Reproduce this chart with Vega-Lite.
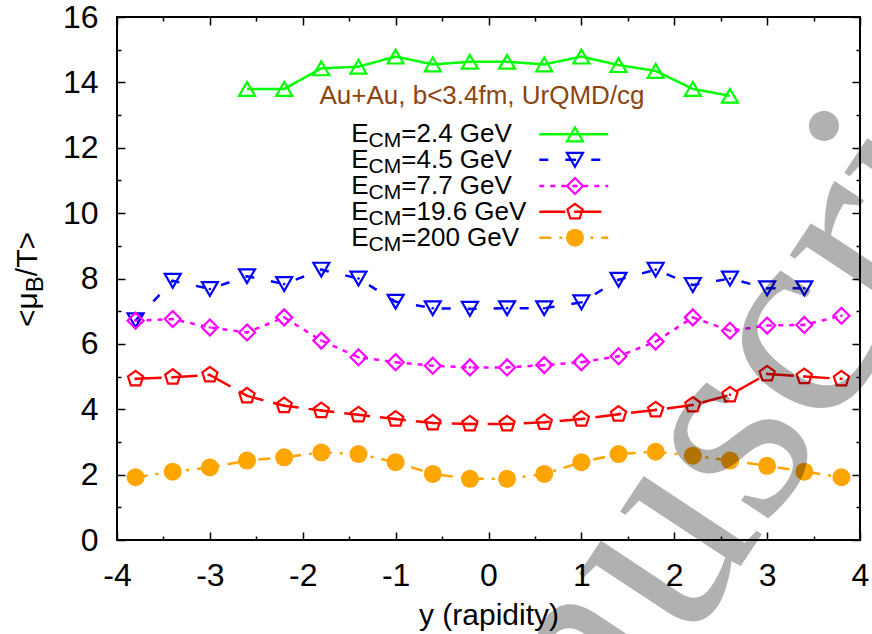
{
  "$schema": "https://vega.github.io/schema/vega-lite/v6.json",
  "width": 743,
  "height": 523,
  "autosize": {"type": "none"},
  "padding": {"left": 117, "top": 17, "right": 12, "bottom": 94},
  "background": "white",
  "config": {
    "view": {"stroke": "black", "strokeWidth": 2},
    "font": "Liberation Sans",
    "axis": {"grid": false, "domain": false, "tickColor": "black", "tickWidth": 1.5, "labelColor": "black", "labelFont": "Liberation Sans", "labelFontSize": 32, "titleFont": "Liberation Sans", "titleFontWeight": "normal", "titleColor": "black", "titleFontSize": 30, "labelFlush": false, "labelOverlap": false}
  },
  "datasets": {
    "main": [
      {"s": "2.4", "x": -2.6, "y": 13.8}, {"s": "2.4", "x": -2.2, "y": 13.8}, {"s": "2.4", "x": -1.8, "y": 14.43}, {"s": "2.4", "x": -1.4, "y": 14.48}, {"s": "2.4", "x": -1.0, "y": 14.79}, {"s": "2.4", "x": -0.6, "y": 14.55}, {"s": "2.4", "x": -0.2, "y": 14.63}, {"s": "2.4", "x": 0.2, "y": 14.63}, {"s": "2.4", "x": 0.6, "y": 14.55}, {"s": "2.4", "x": 1.0, "y": 14.79}, {"s": "2.4", "x": 1.4, "y": 14.53}, {"s": "2.4", "x": 1.8, "y": 14.35}, {"s": "2.4", "x": 2.2, "y": 13.8}, {"s": "2.4", "x": 2.6, "y": 13.59},
      {"s": "4.5", "x": -3.8, "y": 6.72}, {"s": "4.5", "x": -3.4, "y": 7.93}, {"s": "4.5", "x": -3.0, "y": 7.68}, {"s": "4.5", "x": -2.6, "y": 8.07}, {"s": "4.5", "x": -2.2, "y": 7.83}, {"s": "4.5", "x": -1.8, "y": 8.27}, {"s": "4.5", "x": -1.4, "y": 8.0}, {"s": "4.5", "x": -1.0, "y": 7.29}, {"s": "4.5", "x": -0.6, "y": 7.09}, {"s": "4.5", "x": -0.2, "y": 7.07}, {"s": "4.5", "x": 0.2, "y": 7.09}, {"s": "4.5", "x": 0.6, "y": 7.09}, {"s": "4.5", "x": 1.0, "y": 7.27}, {"s": "4.5", "x": 1.4, "y": 7.96}, {"s": "4.5", "x": 1.8, "y": 8.27}, {"s": "4.5", "x": 2.2, "y": 7.8}, {"s": "4.5", "x": 2.6, "y": 8.0}, {"s": "4.5", "x": 3.0, "y": 7.7}, {"s": "4.5", "x": 3.4, "y": 7.7},
      {"s": "7.7", "x": -3.8, "y": 6.71}, {"s": "7.7", "x": -3.4, "y": 6.76}, {"s": "7.7", "x": -3.0, "y": 6.5}, {"s": "7.7", "x": -2.6, "y": 6.35}, {"s": "7.7", "x": -2.2, "y": 6.81}, {"s": "7.7", "x": -1.8, "y": 6.1}, {"s": "7.7", "x": -1.4, "y": 5.59}, {"s": "7.7", "x": -1.0, "y": 5.44}, {"s": "7.7", "x": -0.6, "y": 5.33}, {"s": "7.7", "x": -0.2, "y": 5.28}, {"s": "7.7", "x": 0.2, "y": 5.28}, {"s": "7.7", "x": 0.6, "y": 5.35}, {"s": "7.7", "x": 1.0, "y": 5.44}, {"s": "7.7", "x": 1.4, "y": 5.62}, {"s": "7.7", "x": 1.8, "y": 6.07}, {"s": "7.7", "x": 2.2, "y": 6.81}, {"s": "7.7", "x": 2.6, "y": 6.4}, {"s": "7.7", "x": 3.0, "y": 6.56}, {"s": "7.7", "x": 3.4, "y": 6.58}, {"s": "7.7", "x": 3.8, "y": 6.86},
      {"s": "19.6", "x": -3.8, "y": 4.93}, {"s": "19.6", "x": -3.4, "y": 4.98}, {"s": "19.6", "x": -3.0, "y": 5.05}, {"s": "19.6", "x": -2.6, "y": 4.41}, {"s": "19.6", "x": -2.2, "y": 4.11}, {"s": "19.6", "x": -1.8, "y": 3.96}, {"s": "19.6", "x": -1.4, "y": 3.83}, {"s": "19.6", "x": -1.0, "y": 3.7}, {"s": "19.6", "x": -0.6, "y": 3.58}, {"s": "19.6", "x": -0.2, "y": 3.55}, {"s": "19.6", "x": 0.2, "y": 3.55}, {"s": "19.6", "x": 0.6, "y": 3.6}, {"s": "19.6", "x": 1.0, "y": 3.7}, {"s": "19.6", "x": 1.4, "y": 3.85}, {"s": "19.6", "x": 1.8, "y": 3.98}, {"s": "19.6", "x": 2.2, "y": 4.13}, {"s": "19.6", "x": 2.6, "y": 4.44}, {"s": "19.6", "x": 3.0, "y": 5.08}, {"s": "19.6", "x": 3.4, "y": 5.0}, {"s": "19.6", "x": 3.8, "y": 4.93},
      {"s": "200", "x": -3.8, "y": 1.92}, {"s": "200", "x": -3.4, "y": 2.09}, {"s": "200", "x": -3.0, "y": 2.22}, {"s": "200", "x": -2.6, "y": 2.43}, {"s": "200", "x": -2.2, "y": 2.53}, {"s": "200", "x": -1.8, "y": 2.68}, {"s": "200", "x": -1.4, "y": 2.63}, {"s": "200", "x": -1.0, "y": 2.38}, {"s": "200", "x": -0.6, "y": 2.02}, {"s": "200", "x": -0.2, "y": 1.87}, {"s": "200", "x": 0.2, "y": 1.87}, {"s": "200", "x": 0.6, "y": 2.02}, {"s": "200", "x": 1.0, "y": 2.38}, {"s": "200", "x": 1.4, "y": 2.63}, {"s": "200", "x": 1.8, "y": 2.7}, {"s": "200", "x": 2.2, "y": 2.58}, {"s": "200", "x": 2.6, "y": 2.43}, {"s": "200", "x": 3.0, "y": 2.27}, {"s": "200", "x": 3.4, "y": 2.09}, {"s": "200", "x": 3.8, "y": 1.92}
    ],
    "leg": [
      {"s": "2.4", "t": "=2.4 GeV", "ly": 12.41},
      {"s": "4.5", "t": "=4.5 GeV", "ly": 11.63},
      {"s": "7.7", "t": "=7.7 GeV", "ly": 10.83},
      {"s": "19.6", "t": "=19.6 GeV", "ly": 10.04},
      {"s": "200", "t": "=200 GeV", "ly": 9.25}
    ],
    "notes": [{"title": "Au+Au, b<3.4fm, UrQMD/cg", "a": "<μ", "b": "B", "c": "/T>", "w": "manuscript"}]
  },
  "resolve": {"axis": {"x": "independent", "y": "independent"}},
  "layer": [
    {
      "data": {"name": "main"},
      "mark": {"type": "line", "strokeWidth": 2.5},
      "encoding": {
        "x": {"field": "x", "type": "quantitative", "scale": {"domain": [-4, 4], "nice": false, "zero": false},
              "axis": {"orient": "bottom", "values": [-4, -3, -2, -1, 0, 1, 2, 3, 4], "labelExpr": "'' + datum.value", "tickSize": -8, "labelPadding": 28.6, "title": "y (rapidity)", "titlePadding": 9}},
        "y": {"field": "y", "type": "quantitative", "scale": {"domain": [0, 16], "nice": false, "zero": false},
              "axis": {"orient": "left", "values": [0, 2, 4, 6, 8, 10, 12, 14, 16], "labelExpr": "'' + datum.value", "tickSize": -8, "labelPadding": 27, "title": null}},
        "color": {"field": "s", "type": "nominal", "scale": {"domain": ["2.4", "4.5", "7.7", "19.6", "200"], "range": ["#00ff00", "#0000ff", "#ff00ff", "#ff0000", "#ffa500"]}, "legend": null},
        "strokeDash": {"field": "s", "type": "nominal", "scale": {"domain": ["2.4", "4.5", "7.7", "19.6", "200"], "range": [[1, 0], [9, 17], [5, 6], [26, 10], [12, 8, 3, 8]]}, "legend": null}
      }
    },
    {
      "data": {"name": "main"},
      "transform": [{"filter": "datum.s != '200'"}],
      "mark": {"type": "point", "filled": false, "strokeWidth": 2.2, "size": 256, "opacity": 1},
      "encoding": {
        "x": {"field": "x", "type": "quantitative", "axis": {"orient": "bottom", "values": [-3.5, -2.5, -1.5, -0.5, 0.5, 1.5, 2.5, 3.5], "labels": false, "tickSize": -4, "title": null}},
        "y": {"field": "y", "type": "quantitative", "axis": {"orient": "left", "values": [1, 3, 5, 7, 9, 11, 13, 15], "labels": false, "tickSize": -4, "title": null}},
        "color": {"field": "s", "type": "nominal", "legend": null},
        "shape": {"field": "s", "type": "nominal", "scale": {"domain": ["2.4", "4.5", "7.7", "19.6"], "range": ["triangle-up", "triangle-down", "diamond", "M0,-1L0.951,-0.309L0.588,0.809L-0.588,0.809L-0.951,-0.309Z"]}, "legend": null}
      }
    },
    {
      "data": {"name": "main"},
      "transform": [{"filter": "datum.s == '200'"}],
      "mark": {"type": "circle", "size": 324, "opacity": 1, "color": "#ffa500"},
      "encoding": {
        "x": {"field": "x", "type": "quantitative", "axis": {"orient": "top", "values": [-4, -3, -2, -1, 0, 1, 2, 3, 4], "labels": false, "tickSize": -8, "title": null}},
        "y": {"field": "y", "type": "quantitative", "axis": {"orient": "right", "values": [0, 2, 4, 6, 8, 10, 12, 14, 16], "labels": false, "tickSize": -8, "title": null}}
      }
    },
    {
      "data": {"name": "main"},
      "transform": [{"filter": "datum.s == '4.5' || datum.s == '7.7' || datum.s == '19.6'"}],
      "mark": {"type": "circle", "size": 7, "opacity": 1},
      "encoding": {
        "x": {"field": "x", "type": "quantitative", "axis": {"orient": "top", "values": [-3.5, -2.5, -1.5, -0.5, 0.5, 1.5, 2.5, 3.5], "labels": false, "tickSize": -4, "title": null}},
        "y": {"field": "y", "type": "quantitative", "axis": {"orient": "right", "values": [1, 3, 5, 7, 9, 11, 13, 15], "labels": false, "tickSize": -4, "title": null}},
        "color": {"field": "s", "type": "nominal", "legend": null}
      }
    },
    {
      "data": {"name": "leg"},
      "mark": {"type": "rule", "strokeWidth": 2.5},
      "encoding": {
        "x": {"datum": 0.547, "type": "quantitative", "axis": null},
        "x2": {"datum": 1.29},
        "y": {"field": "ly", "type": "quantitative", "axis": null},
        "color": {"field": "s", "type": "nominal", "legend": null},
        "strokeDash": {"field": "s", "type": "nominal", "legend": null}
      }
    },
    {
      "data": {"name": "leg"},
      "transform": [{"filter": "datum.s != '200'"}],
      "mark": {"type": "point", "filled": false, "strokeWidth": 2.2, "size": 256, "opacity": 1},
      "encoding": {
        "x": {"datum": 0.931, "type": "quantitative", "axis": null},
        "y": {"field": "ly", "type": "quantitative", "axis": null},
        "color": {"field": "s", "type": "nominal", "legend": null},
        "shape": {"field": "s", "type": "nominal", "legend": null}
      }
    },
    {
      "data": {"name": "leg"},
      "transform": [{"filter": "datum.s == '200'"}],
      "mark": {"type": "circle", "size": 324, "opacity": 1, "color": "#ffa500"},
      "encoding": {
        "x": {"datum": 0.931, "type": "quantitative", "axis": null},
        "y": {"field": "ly", "type": "quantitative", "axis": null}
      }
    },
    {
      "data": {"name": "leg"},
      "transform": [{"filter": "datum.s == '4.5' || datum.s == '7.7' || datum.s == '19.6'"}],
      "mark": {"type": "circle", "size": 7, "opacity": 1},
      "encoding": {
        "x": {"datum": 0.931, "type": "quantitative", "axis": null},
        "y": {"field": "ly", "type": "quantitative", "axis": null},
        "color": {"field": "s", "type": "nominal", "legend": null}
      }
    },
    {
      "data": {"name": "leg"},
      "mark": {"type": "text", "text": "E", "fontSize": 26, "align": "left", "baseline": "middle", "color": "black"},
      "encoding": {
        "x": {"datum": -1.477, "type": "quantitative", "axis": null},
        "y": {"field": "ly", "type": "quantitative", "axis": null}
      }
    },
    {
      "data": {"name": "leg"},
      "mark": {"type": "text", "text": "CM", "fontSize": 21, "align": "left", "baseline": "middle", "dx": 17.3, "dy": 7, "color": "black"},
      "encoding": {
        "x": {"datum": -1.477, "type": "quantitative", "axis": null},
        "y": {"field": "ly", "type": "quantitative", "axis": null}
      }
    },
    {
      "data": {"name": "leg"},
      "mark": {"type": "text", "fontSize": 26, "align": "left", "baseline": "middle", "dx": 50, "color": "black"},
      "encoding": {
        "x": {"datum": -1.477, "type": "quantitative", "axis": null},
        "y": {"field": "ly", "type": "quantitative", "axis": null},
        "text": {"field": "t"}
      }
    },
    {
      "data": {"name": "notes"},
      "mark": {"type": "text", "fontSize": 26, "align": "center", "baseline": "alphabetic", "color": "#8b4513"},
      "encoding": {
        "x": {"datum": -0.07, "type": "quantitative", "axis": null},
        "y": {"datum": 13.33, "type": "quantitative", "axis": null},
        "text": {"field": "title"}
      }
    },
    {
      "data": {"name": "notes"},
      "mark": {"type": "text", "fontSize": 30, "align": "left", "baseline": "alphabetic", "angle": 270, "color": "black"},
      "encoding": {
        "x": {"datum": -4.856, "type": "quantitative", "axis": null},
        "y": {"datum": 6.516, "type": "quantitative", "axis": null},
        "text": {"field": "a"}
      }
    },
    {
      "data": {"name": "notes"},
      "mark": {"type": "text", "fontSize": 24, "align": "left", "baseline": "alphabetic", "angle": 270, "dx": 34.8, "dy": 5.5, "color": "black"},
      "encoding": {
        "x": {"datum": -4.856, "type": "quantitative", "axis": null},
        "y": {"datum": 6.516, "type": "quantitative", "axis": null},
        "text": {"field": "b"}
      }
    },
    {
      "data": {"name": "notes"},
      "mark": {"type": "text", "fontSize": 30, "align": "left", "baseline": "alphabetic", "angle": 270, "dx": 50.8, "color": "black"},
      "encoding": {
        "x": {"datum": -4.856, "type": "quantitative", "axis": null},
        "y": {"datum": 6.516, "type": "quantitative", "axis": null},
        "text": {"field": "c"}
      }
    },
    {
      "data": {"name": "notes"},
      "mark": {"type": "text", "font": "Liberation Serif", "fontSize": 285, "align": "center", "baseline": "middle", "angle": 303.5, "color": "black", "opacity": 0.3},
      "encoding": {
        "x": {"datum": 2.2, "type": "quantitative", "axis": null},
        "y": {"datum": 1.75, "type": "quantitative", "axis": null},
        "text": {"field": "w"}
      }
    }
  ]
}
